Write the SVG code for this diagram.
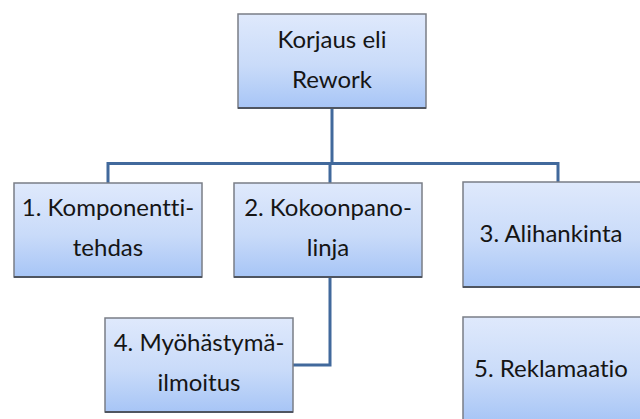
<svg xmlns="http://www.w3.org/2000/svg" width="640" height="419" viewBox="0 0 640 419">
  <defs>
    <linearGradient id="boxFill" x1="0" y1="0" x2="0" y2="1">
      <stop offset="0" stop-color="#dfe9fc"/>
      <stop offset="0.55" stop-color="#c9dbf9"/>
      <stop offset="1" stop-color="#a7c5f6"/>
    </linearGradient>
  </defs>
  <style>
    .box { fill: url(#boxFill); stroke: #7a7e86; stroke-width: 1.5; }
    .shadow { stroke: #4f5560; stroke-width: 2; }
    .label { font-family: Lato, "Liberation Sans", sans-serif; font-size: 24px; fill: #151515; text-anchor: middle; font-variant-ligatures: none; font-feature-settings: "liga" 0, "clig" 0; }
    .conn { fill: none; stroke: #41699c; stroke-width: 3; }
  </style>
  <rect width="640" height="419" fill="#ffffff"/>

  <g id="connectors">
    <path class="conn" d="M332,108 V164"/>
    <path class="conn" d="M108,183 V163.5 H558 V182"/>
    <path class="conn" d="M330,163.5 V183"/>
    <path class="conn" d="M330,277 V365 H293"/>
  </g>

  <g id="node-rework">
    <rect class="box" x="238" y="14" width="188" height="94"/>
    <line class="shadow" x1="238" y1="108" x2="426" y2="108"/>
    <text class="label" x="332" y="48">Korjaus eli</text>
    <text class="label" x="332" y="88">Rework</text>
  </g>

  <g id="node-komponenttitehdas">
    <rect class="box" x="14" y="183" width="188" height="94"/>
    <line class="shadow" x1="14" y1="277" x2="202" y2="277"/>
    <text class="label" x="108" y="216">1. Komponentti-</text>
    <text class="label" x="108" y="256">tehdas</text>
  </g>

  <g id="node-kokoonpanolinja">
    <rect class="box" x="234" y="183" width="188" height="94"/>
    <line class="shadow" x1="234" y1="277" x2="422" y2="277"/>
    <text class="label" x="328" y="216">2. Kokoonpano-</text>
    <text class="label" x="328" y="256">linja</text>
  </g>

  <g id="node-alihankinta">
    <rect class="box" x="463" y="182" width="190" height="105"/>
    <line class="shadow" x1="463" y1="287" x2="653" y2="287"/>
    <text class="label" x="551" y="242">3. Alihankinta</text>
  </g>

  <g id="node-myohastymailmoitus">
    <rect class="box" x="105" y="318" width="188" height="94"/>
    <line class="shadow" x1="105" y1="412" x2="293" y2="412"/>
    <text class="label" x="199" y="351">4. Myöhästymä-</text>
    <text class="label" x="199" y="391">ilmoitus</text>
  </g>

  <g id="node-reklamaatio">
    <rect class="box" x="463" y="317" width="190" height="105"/>
    <text class="label" x="551" y="377">5. Reklamaatio</text>
  </g>
</svg>
